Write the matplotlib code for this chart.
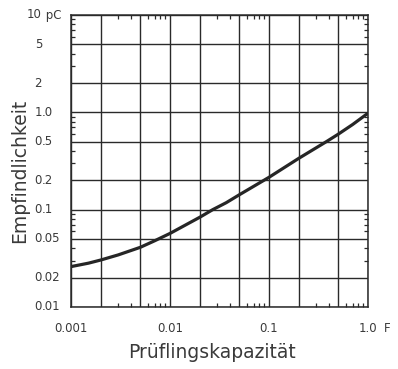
import matplotlib
matplotlib.use("Agg")
import matplotlib.pyplot as plt
from matplotlib.ticker import FixedLocator, NullFormatter
from matplotlib.transforms import blended_transform_factory

# Data
capacitance = [0.001, 0.0015, 0.002, 0.003, 0.005, 0.007, 0.01, 0.02, 0.027,
               0.037, 0.05, 0.1, 0.2, 0.38, 0.5, 0.7, 1.0]
sensitivity = [0.026, 0.0282, 0.0304, 0.0343, 0.041, 0.0479, 0.057, 0.0836, 0.100,
               0.118, 0.142, 0.215, 0.337, 0.50, 0.596, 0.75, 0.98]

x_grid = [0.001, 0.002, 0.005, 0.01, 0.02, 0.05, 0.1, 0.2, 0.5, 1.0]
x_labels = ["0.001", "", "", "0.01", "", "", "0.1", "", "", "1.0"]
y_grid = [0.01, 0.02, 0.05, 0.1, 0.2, 0.5, 1.0, 2, 5, 10]
y_labels = ["0.01", "0.02", "0.05", "0.1", "0.2", "0.5", "1.0", "2", "5", "10 pC"]
minor_mult = [3, 4, 6, 7, 8, 9]
x_minor = [m * d for d in [0.001, 0.01, 0.1] for m in minor_mult]
y_minor = [m * d for d in [0.01, 0.1, 1.0] for m in minor_mult]

W, H = 398, 369
fig = plt.figure(figsize=(W / 100, H / 100), dpi=100)
ax = fig.add_axes([71 / W, 1 - 307 / H, 297 / W, 292 / H])

lc = "#2a2a2a"
tc = "#3a3a3a"
ax.plot(capacitance, sensitivity, color="#262626", lw=2.3, solid_capstyle="butt")

ax.set_xscale("log")
ax.set_yscale("log")
ax.set_xlim(0.001, 1.0)
ax.set_ylim(0.01, 10)

ax.xaxis.set_major_locator(FixedLocator(x_grid))
ax.yaxis.set_major_locator(FixedLocator(y_grid))
ax.xaxis.set_minor_locator(FixedLocator(x_minor))
ax.yaxis.set_minor_locator(FixedLocator(y_minor))
ax.xaxis.set_minor_formatter(NullFormatter())
ax.yaxis.set_minor_formatter(NullFormatter())
ax.set_xticklabels(x_labels)
ax.set_yticklabels([])

ax.grid(which="major", color=lc, lw=1.0)
ax.tick_params(which="major", length=0, labelsize=8.5, labelcolor=tc, pad=11)
ax.tick_params(which="minor", direction="in", length=3.2, width=0.9, color=lc,
               top=True, right=True)
for s in ax.spines.values():
    s.set_color(lc)
    s.set_linewidth(1.1)

# y tick labels, aligned on the decimal point
tr = blended_transform_factory(fig.transFigure, ax.transData)
xa = 42 / W
for v, lab in zip(y_grid, y_labels):
    if "." in lab:
        i = lab.index(".")
    elif " " in lab:
        i = lab.index(" ")
    else:
        i = len(lab)
    ax.text(xa, v, lab[:i], transform=tr, ha="right", va="center",
            fontsize=8.5, color=tc)
    if lab[i:]:
        ax.text(xa, v, lab[i:], transform=tr, ha="left", va="center",
                fontsize=8.5, color=tc)

fig.text(387 / W, 1 - 328 / H, "F", ha="center", va="center", fontsize=8.5,
         color=tc)
fig.text(212 / W, 1 - 352 / H, "Prüflingskapazität", ha="center", va="center",
         fontsize=13.5, color=tc)
fig.text(20 / W, 1 - 171 / H, "Empfindlichkeit", ha="center", va="center",
         rotation=90, fontsize=13.5, color=tc)

fig.savefig("out.png", dpi=100)
